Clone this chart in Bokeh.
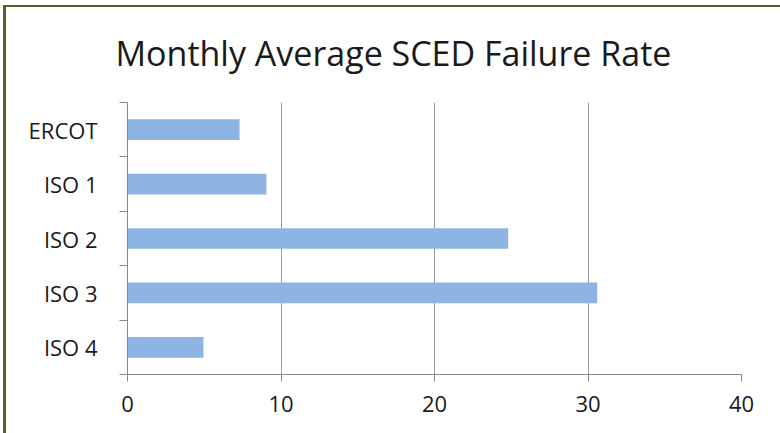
from bokeh.plotting import figure
from bokeh.models import FixedTicker, Range1d
from bokeh.embed import file_html
from bokeh.resources import INLINE

categories = ["ERCOT", "ISO 1", "ISO 2", "ISO 3", "ISO 4"]
failure_rate = [7.3, 9.05, 24.8, 30.6, 4.95]
x_ticks = [0, 10, 20, 30, 40]

n = len(categories)
ypos = [n - 1 - i + 0.5 for i in range(n)]

p = figure(width=780, height=433, output_backend="svg", toolbar_location=None,
           x_range=Range1d(0, 40), y_range=Range1d(0, n),
           min_border_left=127, min_border_right=39, min_border_top=100, min_border_bottom=59)

p.hbar(y=ypos, right=failure_rate, left=0, height=0.38, color="#8DB4E2", line_color=None)

p.title.text = "Monthly Average SCED Failure Rate"
p.title.text_font = "Open Sans"
p.title.text_font_size = "34px"
p.title.text_font_style = "normal"
p.title.text_color = "#1a1a1a"
p.title.align = "left"
p.title.offset = -12
p.title.standoff = 54

p.border_fill_color = None
p.background_fill_color = "white"
p.outline_line_color = None
p.styles = {"background-color": "white",
            "box-shadow": "inset 3px 5px 0 0 white, inset 6px 7px 0 0 #4F6228"}

# x axis
p.xaxis.ticker = FixedTicker(ticks=x_ticks)
p.xaxis.axis_line_color = "#888888"
p.xaxis.major_tick_line_color = "#888888"
p.xaxis.major_tick_out = 7
p.xaxis.major_tick_in = 0
p.xaxis.minor_tick_line_color = None
p.xaxis.major_label_text_font = "Open Sans"
p.xaxis.major_label_text_font_size = "22px"
p.xaxis.major_label_text_color = "#1a1a1a"
p.xaxis.major_label_standoff = 14

# y axis: labels at centres, tick marks at band boundaries
p.yaxis.ticker = FixedTicker(ticks=ypos, minor_ticks=list(range(n + 1)))
p.yaxis.major_label_overrides = {y: c for y, c in zip(ypos, categories)}
p.yaxis.axis_line_color = "#888888"
p.yaxis.major_tick_line_color = None
p.yaxis.minor_tick_line_color = "#888888"
p.yaxis.minor_tick_out = 8
p.yaxis.minor_tick_in = 0
p.yaxis.major_label_text_font = "Open Sans"
p.yaxis.major_label_text_font_size = "22px"
p.yaxis.major_label_text_color = "#1a1a1a"
p.yaxis.major_label_standoff = 22

p.xgrid.ticker = FixedTicker(ticks=x_ticks[1:])
p.xgrid.grid_line_color = "#9a9a9a"
p.ygrid.grid_line_color = None

open("out.html", "w").write(file_html(p, INLINE))
